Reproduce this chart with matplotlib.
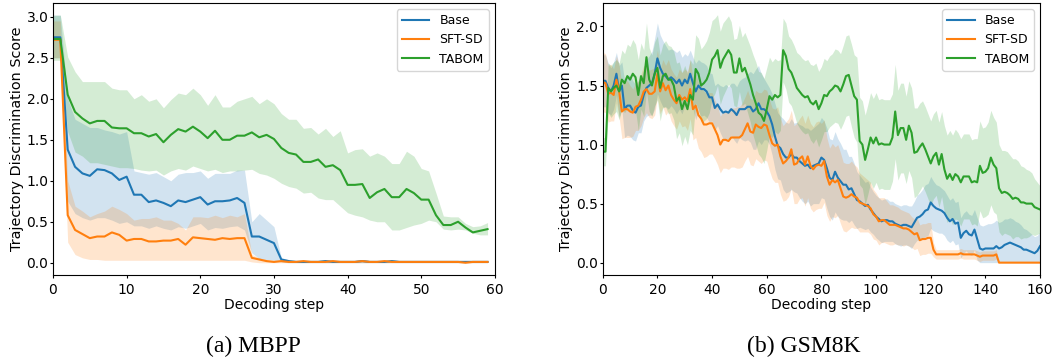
import numpy as np
import matplotlib.pyplot as plt

plt.style.use('default')

METHODS = ['Base', 'SFT-SD', 'TABOM']
COLORS = ['tab:blue', 'tab:orange', 'tab:green']

# ---------------- (a) MBPP : mean with lower / upper band ----------------
mbpp_steps = np.arange(60)

mbpp_base = [2.75, 2.75, 1.38, 1.17, 1.09, 1.06, 1.14, 1.13, 1.09, 1.01,
             1.05, 0.83, 0.83, 0.74, 0.76, 0.73, 0.69, 0.76, 0.74, 0.77,
             0.80, 0.71, 0.75, 0.75, 0.76, 0.79, 0.73, 0.32, 0.32, 0.28,
             0.24, 0.04, 0.02, 0.01, 0.01, 0.01, 0.01, 0.02, 0.01, 0.01,
             0.01, 0.01, 0.02, 0.01, 0.01, 0.01, 0.02, 0.01, 0.01, 0.01,
             0.01, 0.01, 0.01, 0.01, 0.01, 0.01, 0.01, 0.01, 0.01, 0.01]
mbpp_base_hi = [3.02, 3.02, 2.00, 1.75, 1.70, 1.65, 1.65, 1.62, 1.60, 1.57,
                1.60, 1.12, 1.10, 1.08, 1.10, 1.05, 1.00, 1.08, 1.10, 1.10,
                1.12, 1.03, 1.09, 1.09, 1.09, 1.13, 1.13, 0.50, 0.60, 0.52,
                0.44, 0.06, 0.04, 0.03, 0.03, 0.03, 0.03, 0.04, 0.03, 0.03,
                0.03, 0.03, 0.04, 0.03, 0.03, 0.03, 0.04, 0.03, 0.03, 0.03,
                0.03, 0.03, 0.03, 0.03, 0.03, 0.03, 0.03, 0.03, 0.03, 0.03]
mbpp_base_lo = [2.50, 2.50, 0.75, 0.60, 0.55, 0.52, 0.55, 0.55, 0.52, 0.48,
                0.50, 0.45, 0.45, 0.42, 0.45, 0.42, 0.40, 0.44, 0.42, 0.45,
                0.48, 0.40, 0.43, 0.42, 0.44, 0.45, 0.40, 0.12, 0.05, 0.04,
                0.03, 0.01, 0.00, 0.00, 0.00, 0.00, 0.00, 0.00, 0.00, 0.00,
                0.00, 0.00, 0.00, 0.00, 0.00, 0.00, 0.00, 0.00, 0.00, 0.00,
                0.00, 0.00, 0.00, 0.00, 0.00, 0.00, 0.00, 0.00, 0.00, 0.00]

mbpp_sft = [2.72, 2.72, 0.58, 0.40, 0.35, 0.30, 0.32, 0.32, 0.37, 0.34,
            0.27, 0.29, 0.29, 0.26, 0.26, 0.27, 0.27, 0.29, 0.22, 0.31,
            0.30, 0.29, 0.28, 0.30, 0.29, 0.30, 0.30, 0.06, 0.04, 0.02,
            0.01, 0.02, 0.01, 0.01, 0.02, 0.01, 0.01, 0.01, 0.02, 0.01,
            0.01, 0.01, 0.02, 0.01, 0.01, 0.02, 0.01, 0.01, 0.01, 0.01,
            0.01, 0.01, 0.01, 0.01, 0.01, 0.01, 0.00, 0.01, 0.01, 0.01]
mbpp_sft_hi = [2.95, 2.95, 1.00, 0.69, 0.63, 0.56, 0.60, 0.63, 0.69, 0.65,
               0.60, 0.52, 0.54, 0.54, 0.56, 0.52, 0.52, 0.48, 0.40, 0.56,
               0.56, 0.55, 0.58, 0.55, 0.58, 0.56, 0.60, 0.10, 0.06, 0.04,
               0.03, 0.03, 0.02, 0.02, 0.03, 0.02, 0.02, 0.02, 0.03, 0.02,
               0.02, 0.02, 0.03, 0.02, 0.02, 0.03, 0.02, 0.02, 0.02, 0.02,
               0.02, 0.02, 0.02, 0.02, 0.02, 0.02, 0.01, 0.02, 0.02, 0.02]
mbpp_sft_lo = [2.50, 2.50, 0.25, 0.10, 0.06, 0.04, 0.04, 0.03, 0.03, 0.03,
               0.03, 0.03, 0.03, 0.03, 0.03, 0.03, 0.03, 0.03, 0.03, 0.03,
               0.03, 0.03, 0.03, 0.03, 0.03, 0.03, 0.03, 0.01, 0.00, 0.00,
               0.00, 0.00, 0.00, 0.00, 0.00, 0.00, 0.00, 0.00, 0.00, 0.00,
               0.00, 0.00, 0.00, 0.00, 0.00, 0.00, 0.00, 0.00, 0.00, 0.00,
               0.00, 0.00, 0.00, 0.00, 0.00, 0.00, 0.00, 0.00, 0.00, 0.00]

mbpp_tabom = [2.73, 2.73, 2.05, 1.84, 1.76, 1.70, 1.73, 1.73, 1.65, 1.64,
              1.64, 1.58, 1.58, 1.54, 1.57, 1.47, 1.56, 1.63, 1.60, 1.66,
              1.60, 1.52, 1.61, 1.50, 1.50, 1.55, 1.55, 1.59, 1.53, 1.56,
              1.51, 1.40, 1.34, 1.32, 1.23, 1.23, 1.26, 1.17, 1.19, 1.13,
              0.95, 0.95, 0.96, 0.79, 0.86, 0.90, 0.80, 0.80, 0.90, 0.85,
              0.77, 0.77, 0.58, 0.46, 0.46, 0.50, 0.43, 0.37, 0.39, 0.41]
mbpp_tabom_hi = [3.02, 3.02, 2.51, 2.33, 2.21, 2.21, 2.21, 2.21, 2.13, 2.11,
                 2.11, 2.00, 2.05, 1.97, 2.00, 1.89, 1.99, 2.07, 2.05, 2.13,
                 2.05, 1.92, 2.05, 1.90, 1.90, 1.97, 2.00, 2.03, 1.94, 2.00,
                 1.94, 1.82, 1.75, 1.75, 1.64, 1.65, 1.57, 1.64, 1.54, 1.61,
                 1.34, 1.38, 1.39, 1.30, 1.34, 1.30, 1.21, 1.21, 1.36, 1.30,
                 1.15, 1.12, 0.85, 0.57, 0.56, 0.56, 0.48, 0.44, 0.45, 0.49]
mbpp_tabom_lo = [2.47, 2.47, 1.60, 1.35, 1.30, 1.22, 1.22, 1.20, 1.18, 1.16,
                 1.16, 1.15, 1.13, 1.12, 1.13, 1.07, 1.12, 1.15, 1.13, 1.18,
                 1.15, 1.12, 1.14, 1.10, 1.12, 1.12, 1.13, 1.14, 1.09, 1.07,
                 1.03, 0.97, 0.93, 0.91, 0.85, 0.86, 0.79, 0.77, 0.77, 0.69,
                 0.61, 0.58, 0.56, 0.52, 0.50, 0.50, 0.40, 0.40, 0.43, 0.46,
                 0.48, 0.52, 0.50, 0.41, 0.40, 0.41, 0.40, 0.36, 0.34, 0.34]

# ---------------- (b) GSM8K : mean with std band ----------------
gsm_steps = np.arange(161)

gsm_base = [1.54, 1.54, 1.48, 1.45, 1.50, 1.60, 1.45, 1.50, 1.30, 1.33,
            1.33, 1.29, 1.27, 1.32, 1.33, 1.42, 1.48, 1.50, 1.52, 1.60,
            1.73, 1.65, 1.60, 1.58, 1.55, 1.57, 1.55, 1.52, 1.55, 1.50,
            1.55, 1.52, 1.60, 1.52, 1.45, 1.50, 1.47, 1.47, 1.45, 1.40,
            1.40, 1.31, 1.34, 1.30, 1.27, 1.28, 1.27, 1.30, 1.28, 1.25,
            1.30, 1.30, 1.30, 1.32, 1.32, 1.28, 1.30, 1.35, 1.30, 1.30,
            1.28, 1.24, 1.17, 1.07, 0.99, 0.97, 0.92, 0.89, 0.89, 0.92,
            0.89, 0.89, 0.86, 0.84, 0.82, 0.83, 0.80, 0.82, 0.83, 0.84,
            0.89, 0.87, 0.80, 0.72, 0.70, 0.77, 0.72, 0.69, 0.66, 0.66,
            0.62, 0.63, 0.58, 0.53, 0.52, 0.50, 0.48, 0.49, 0.45, 0.42,
            0.39, 0.37, 0.35, 0.36, 0.36, 0.35, 0.35, 0.33, 0.32, 0.31,
            0.32, 0.32, 0.31, 0.30, 0.34, 0.38, 0.39, 0.41, 0.44, 0.45,
            0.51, 0.48, 0.46, 0.45, 0.44, 0.42, 0.38, 0.35, 0.37, 0.33,
            0.34, 0.21, 0.25, 0.27, 0.24, 0.23, 0.28, 0.20, 0.12, 0.11,
            0.12, 0.12, 0.12, 0.12, 0.14, 0.12, 0.13, 0.15, 0.16, 0.17,
            0.16, 0.15, 0.14, 0.13, 0.11, 0.11, 0.10, 0.09, 0.08, 0.10,
            0.14]
gsm_base_sd = [0.22, 0.22, 0.21, 0.20, 0.20, 0.18, 0.22, 0.20, 0.24, 0.25,
               0.26, 0.25, 0.24, 0.22, 0.23, 0.22, 0.24, 0.25, 0.27, 0.30,
               0.30, 0.28, 0.28, 0.26, 0.25, 0.24, 0.25, 0.26, 0.25, 0.24,
               0.22, 0.23, 0.20, 0.22, 0.24, 0.22, 0.23, 0.22, 0.22, 0.21,
               0.20, 0.19, 0.18, 0.20, 0.22, 0.23, 0.22, 0.22, 0.24, 0.24,
               0.24, 0.26, 0.27, 0.28, 0.30, 0.32, 0.34, 0.32, 0.30, 0.26,
               0.24, 0.24, 0.26, 0.28, 0.28, 0.27, 0.30, 0.30, 0.29, 0.30,
               0.29, 0.30, 0.31, 0.32, 0.32, 0.31, 0.32, 0.32, 0.33, 0.34,
               0.34, 0.33, 0.34, 0.33, 0.34, 0.34, 0.33, 0.32, 0.30, 0.30,
               0.28, 0.27, 0.26, 0.24, 0.22, 0.21, 0.20, 0.20, 0.19, 0.18,
               0.18, 0.18, 0.18, 0.18, 0.18, 0.17, 0.17, 0.17, 0.17, 0.17,
               0.17, 0.17, 0.17, 0.18, 0.18, 0.19, 0.20, 0.21, 0.22, 0.22,
               0.22, 0.21, 0.20, 0.20, 0.19, 0.19, 0.19, 0.18, 0.18, 0.18,
               0.18, 0.17, 0.17, 0.17, 0.17, 0.17, 0.17, 0.18, 0.20, 0.20,
               0.20, 0.21, 0.21, 0.22, 0.22, 0.22, 0.22, 0.22, 0.21, 0.21,
               0.21, 0.20, 0.20, 0.19, 0.18, 0.17, 0.16, 0.15, 0.14, 0.13,
               0.12]

gsm_sft = [1.53, 1.52, 1.43, 1.44, 1.42, 1.55, 1.45, 1.28, 1.30, 1.30,
           1.28, 1.27, 1.32, 1.33, 1.38, 1.45, 1.47, 1.43, 1.43, 1.45,
           1.60, 1.45, 1.52, 1.46, 1.50, 1.42, 1.38, 1.35, 1.42, 1.38,
           1.40, 1.37, 1.47, 1.30, 1.33, 1.25, 1.22, 1.17, 1.17, 1.18,
           1.18, 1.13, 1.08, 1.00, 1.04, 1.04, 1.03, 1.06, 1.06, 1.06,
           1.06, 1.08, 1.13, 1.18, 1.11, 1.10, 1.17, 1.15, 1.14, 1.17,
           1.16, 1.08, 1.01, 0.99, 1.00, 0.90, 0.84, 0.86, 0.89, 0.96,
           0.83, 0.84, 0.88, 0.90, 0.83, 0.90, 0.82, 0.79, 0.82, 0.83,
           0.82, 0.86, 0.73, 0.66, 0.70, 0.68, 0.70, 0.63, 0.56, 0.55,
           0.56, 0.58, 0.56, 0.55, 0.51, 0.50, 0.49, 0.48, 0.46, 0.41,
           0.39, 0.35, 0.36, 0.36, 0.34, 0.32, 0.32, 0.32, 0.31, 0.30,
           0.29, 0.29, 0.28, 0.26, 0.24, 0.25, 0.19, 0.20, 0.20, 0.21,
           0.21, 0.11, 0.07, 0.07, 0.07, 0.07, 0.07, 0.07, 0.07, 0.07,
           0.07, 0.08, 0.07, 0.07, 0.07, 0.07, 0.07, 0.06, 0.05, 0.06,
           0.06, 0.06, 0.06, 0.06, 0.07, 0.00, 0.00, 0.00, 0.00, 0.00,
           0.00, 0.00, 0.00, 0.00, 0.00, 0.00, 0.00, 0.00, 0.00, 0.00,
           0.00]
gsm_sft_sd = [0.25, 0.25, 0.24, 0.24, 0.22, 0.20, 0.22, 0.23, 0.24, 0.24,
              0.22, 0.20, 0.20, 0.21, 0.22, 0.22, 0.20, 0.20, 0.21, 0.20,
              0.20, 0.19, 0.20, 0.21, 0.22, 0.22, 0.22, 0.22, 0.22, 0.23,
              0.24, 0.25, 0.25, 0.26, 0.27, 0.28, 0.28, 0.28, 0.27, 0.26,
              0.26, 0.25, 0.25, 0.24, 0.24, 0.24, 0.24, 0.25, 0.25, 0.26,
              0.26, 0.27, 0.27, 0.28, 0.28, 0.28, 0.29, 0.29, 0.30, 0.30,
              0.30, 0.30, 0.30, 0.31, 0.32, 0.32, 0.32, 0.33, 0.33, 0.33,
              0.33, 0.34, 0.34, 0.35, 0.35, 0.35, 0.36, 0.36, 0.37, 0.37,
              0.36, 0.35, 0.33, 0.31, 0.31, 0.30, 0.30, 0.30, 0.29, 0.29,
              0.28, 0.28, 0.27, 0.26, 0.25, 0.24, 0.23, 0.22, 0.22, 0.21,
              0.20, 0.20, 0.19, 0.19, 0.18, 0.17, 0.17, 0.16, 0.16, 0.15,
              0.15, 0.14, 0.14, 0.13, 0.13, 0.13, 0.13, 0.13, 0.13, 0.13,
              0.13, 0.06, 0.04, 0.04, 0.04, 0.04, 0.04, 0.04, 0.04, 0.04,
              0.04, 0.04, 0.04, 0.04, 0.04, 0.04, 0.04, 0.04, 0.04, 0.04,
              0.04, 0.04, 0.04, 0.04, 0.04, 0.00, 0.00, 0.00, 0.00, 0.00,
              0.00, 0.00, 0.00, 0.00, 0.00, 0.00, 0.00, 0.00, 0.00, 0.00,
              0.00]

gsm_tabom = [0.94, 0.94, 1.48, 1.45, 1.48, 1.50, 1.45, 1.55, 1.52, 1.58,
             1.55, 1.60, 1.57, 1.42, 1.58, 1.52, 1.74, 1.55, 1.50, 1.60,
             1.65, 1.48, 1.58, 1.60, 1.55, 1.55, 1.50, 1.37, 1.40, 1.30,
             1.37, 1.30, 1.42, 1.38, 1.64, 1.60, 1.50, 1.52, 1.55, 1.61,
             1.72, 1.75, 1.80, 1.65, 1.72, 1.76, 1.80, 1.76, 1.61, 1.61,
             1.73, 1.62, 1.65, 1.58, 1.51, 1.42, 1.35, 1.27, 1.25, 1.20,
             1.30, 1.41, 1.38, 1.42, 1.40, 1.42, 1.80, 1.75, 1.64, 1.61,
             1.55, 1.48, 1.45, 1.42, 1.40, 1.41, 1.36, 1.34, 1.37, 1.30,
             1.35, 1.42, 1.41, 1.45, 1.47, 1.50, 1.49, 1.45, 1.51, 1.58,
             1.59, 1.50, 1.41, 1.38, 1.03, 1.00, 0.87, 0.96, 1.06, 1.01,
             1.06, 1.00, 1.01, 1.00, 1.00, 1.00, 1.06, 1.28, 1.08, 1.14,
             1.14, 1.04, 1.16, 1.10, 0.93, 0.94, 0.98, 1.01, 0.96, 0.90,
             0.84, 0.90, 0.93, 0.83, 0.92, 0.79, 0.71, 0.75, 0.70, 0.75,
             0.73, 0.68, 0.73, 0.73, 0.73, 0.68, 0.69, 0.68, 0.82, 0.76,
             0.77, 0.80, 0.89, 0.83, 0.80, 0.63, 0.59, 0.60, 0.59, 0.57,
             0.54, 0.55, 0.54, 0.51, 0.51, 0.50, 0.50, 0.50, 0.47, 0.46,
             0.45]
gsm_tabom_sd = [0.12, 0.12, 0.21, 0.22, 0.22, 0.22, 0.24, 0.25, 0.25, 0.27,
                0.28, 0.29, 0.28, 0.30, 0.28, 0.28, 0.29, 0.27, 0.26, 0.27,
                0.27, 0.28, 0.27, 0.28, 0.29, 0.28, 0.29, 0.32, 0.30, 0.31,
                0.30, 0.30, 0.30, 0.30, 0.29, 0.30, 0.31, 0.32, 0.33, 0.34,
                0.33, 0.32, 0.30, 0.31, 0.31, 0.30, 0.29, 0.28, 0.28, 0.29,
                0.28, 0.29, 0.30, 0.31, 0.32, 0.34, 0.35, 0.35, 0.36, 0.36,
                0.35, 0.33, 0.32, 0.31, 0.31, 0.30, 0.27, 0.28, 0.28, 0.28,
                0.29, 0.30, 0.31, 0.31, 0.31, 0.31, 0.32, 0.33, 0.32, 0.32,
                0.31, 0.31, 0.30, 0.30, 0.30, 0.31, 0.31, 0.32, 0.33, 0.34,
                0.34, 0.35, 0.35, 0.36, 0.37, 0.37, 0.38, 0.38, 0.38, 0.38,
                0.38, 0.38, 0.38, 0.38, 0.38, 0.38, 0.37, 0.40, 0.38, 0.38,
                0.38, 0.37, 0.38, 0.38, 0.38, 0.37, 0.37, 0.36, 0.36, 0.36,
                0.36, 0.36, 0.36, 0.36, 0.36, 0.37, 0.37, 0.37, 0.38, 0.38,
                0.37, 0.37, 0.36, 0.36, 0.36, 0.36, 0.36, 0.37, 0.38, 0.38,
                0.38, 0.39, 0.40, 0.40, 0.39, 0.37, 0.36, 0.35, 0.35, 0.34,
                0.34, 0.33, 0.32, 0.31, 0.30, 0.29, 0.28, 0.26, 0.24, 0.22,
                0.20]


def plot_panel(ax, steps, means, lows, highs, xmax, ylim, xticks):
    for name, color, mean, lo, hi in zip(METHODS, COLORS, means, lows, highs):
        ax.fill_between(steps, lo, hi, color=color, alpha=0.2, linewidth=0)
        ax.plot(steps, mean, color=color, label=name, linewidth=1.5)
    ax.set_xlim(0, xmax)
    ax.set_ylim(*ylim)
    ax.set_xticks(xticks)
    ax.set_xlabel('Decoding step', fontsize=10, labelpad=1)
    ax.set_ylabel('Trajectory Discrimination Score', fontsize=10.4, labelpad=2)
    ax.tick_params(axis='both', labelsize=10, length=2.5)
    ax.tick_params(axis='y', pad=0.8)
    ax.tick_params(axis='x', pad=3)
    ax.legend(loc='upper right', fontsize=9, handlelength=2.2)


fig = plt.figure(figsize=(10.53, 3.6), dpi=100)
ax1 = fig.add_axes([0.0503, 0.236, 0.4197, 0.756])
ax2 = fig.add_axes([0.5724, 0.236, 0.4153, 0.756])

plot_panel(ax1, mbpp_steps,
           [mbpp_base, mbpp_sft, mbpp_tabom],
           [mbpp_base_lo, mbpp_sft_lo, mbpp_tabom_lo],
           [mbpp_base_hi, mbpp_sft_hi, mbpp_tabom_hi],
           60, (-0.15, 3.17), range(0, 61, 10))

gsm_means = [np.array(gsm_base), np.array(gsm_sft), np.array(gsm_tabom)]
gsm_sds = [np.array(gsm_base_sd), np.array(gsm_sft_sd), np.array(gsm_tabom_sd)]
# scores are non-negative, so the band is cut at zero
plot_panel(ax2, gsm_steps, gsm_means,
           [np.clip(m - s, 0, None) for m, s in zip(gsm_means, gsm_sds)],
           [m + s for m, s in zip(gsm_means, gsm_sds)],
           160, (-0.105, 2.2), range(0, 161, 20))
ax2.set_yticks([0.0, 0.5, 1.0, 1.5, 2.0])

fig.text(0.2403, 0.039, '(a) MBPP', ha='center', va='center',
         family='Liberation Serif', fontsize=17)
fig.text(0.7635, 0.039, '(b) GSM8K', ha='center', va='center',
         family='Liberation Serif', fontsize=17)

fig.savefig('out.png', dpi=100)
